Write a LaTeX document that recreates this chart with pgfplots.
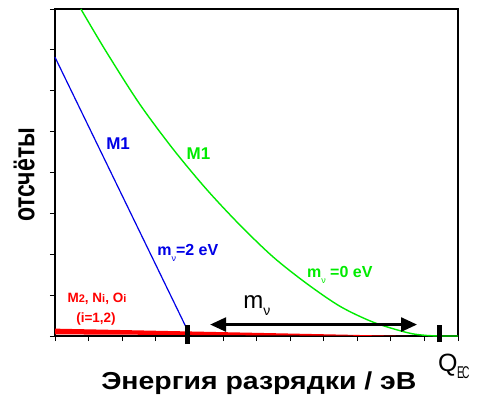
\documentclass[border=0pt]{standalone}
\usepackage{fontspec}
\setmainfont{Liberation Sans}
\newfontfamily\xlabfont[FakeStretch=1.16]{Liberation Sans}
\newfontfamily\ylabfont[FakeStretch=0.77]{Liberation Sans}
\newfontfamily\ecfont[FakeStretch=0.6]{Liberation Sans}
\usepackage{pgfplots}
\pgfplotsset{compat=1.18}
\usetikzlibrary{arrows.meta}
\definecolor{lime}{RGB}{0,235,0}
\definecolor{bl}{RGB}{0,0,230}
\begin{document}
\begin{tikzpicture}
\useasboundingbox (-55bp,-60bp) rectangle (422bp,336bp);
\begin{axis}[
  at={(0,0)}, anchor=south west,
  scale only axis, width=403bp, height=327bp,
  xmin=0, xmax=12, ymin=0, ymax=8,
  xtick={0,1,...,12}, ytick={0,1,...,8},
  xticklabels={}, yticklabels={},
  tick align=outside, xtick pos=bottom, ytick pos=left,
  major tick length=5bp,
  axis line style={line width=1.3bp, black},
  tick style={line width=0.8bp, black},
  clip=false,
]
% red band
\addplot[draw=none, fill=red] coordinates {(0,0.04)(0,0.18)(10.5,0)(10.5,0)} -- cycle;
% blue line m=2 eV
\addplot[bl, line width=1.2bp] coordinates {(0,6.82)(3.9,0.22)};
% green curve m=0
\addplot[lime, line width=1.4bp, smooth] coordinates {
(0.77,8.00)(1.5,6.99)(2.5,5.70)(3.5,4.59)(4.5,3.60)(5.5,2.72)(6.5,1.93)(7.5,1.28)(8.5,0.72)(9.5,0.33)(10.5,0.08)(11.0,0.018)(11.45,0)(12,0)};
% arrow
\addplot[black, line width=2.6bp, {Triangle[length=16bp,width=14bp]}-{Triangle[length=16bp,width=14bp]}] coordinates {(4.62,0.28)(10.78,0.28)};
% markers
\addplot[black, line width=5bp] coordinates {(3.94,-0.2)(3.94,0.27)};
\addplot[black, line width=5bp] coordinates {(11.46,-0.15)(11.46,0.28)};
% labels
\node[bl, font=\bfseries\fontsize{17bp}{17bp}\selectfont] at (axis cs:1.88,4.70) {M1};
\node[lime, font=\bfseries\fontsize{17bp}{17bp}\selectfont] at (axis cs:4.27,4.45) {M1};
\node[bl, anchor=base west, inner sep=0, font=\bfseries\fontsize{16bp}{16bp}\selectfont] at (axis cs:3.04,1.98) {m\raisebox{-6bp}{\fontsize{9bp}{9bp}\mdseries ν}=2 eV};
\node[lime, anchor=base west, inner sep=0, font=\bfseries\fontsize{16bp}{16bp}\selectfont] at (axis cs:7.50,1.44) {m\raisebox{-6bp}{\fontsize{9bp}{9bp}\mdseries ν} =0 eV};
\node[anchor=base west, inner sep=0, font=\fontsize{24bp}{24bp}\selectfont] at (axis cs:5.60,0.685) {m\raisebox{-7bp}{\fontsize{14bp}{14bp}\selectfont ν}};
\node[red, anchor=base, inner sep=0, font=\bfseries\fontsize{13.5bp}{14bp}\selectfont] at (axis cs:1.25,0.81) {M{\fontsize{11bp}{11bp}\selectfont 2}, N{\fontsize{11bp}{11bp}\selectfont i}, O{\fontsize{11bp}{11bp}\selectfont i}};
\node[red, anchor=base, inner sep=0, font=\bfseries\fontsize{13.5bp}{14bp}\selectfont] at (axis cs:1.22,0.32) {(i=1,2)};
\node[anchor=base west, inner sep=0, font=\fontsize{25bp}{25bp}\selectfont] at (axis cs:11.40,-0.86) {Q};
\node[anchor=base west, inner sep=0, font=\ecfont\fontsize{17bp}{17bp}\selectfont] at (axis cs:11.97,-1.05) {E\kern-2bp C};
\node[anchor=base, inner sep=0, font=\xlabfont\bfseries\fontsize{24.5bp}{25bp}\selectfont] at (axis cs:6.07,-1.30) {Энергия разрядки / эВ};
\node[rotate=90, inner sep=0, font=\ylabfont\bfseries\fontsize{30bp}{30bp}\selectfont] at (axis cs:-0.92,3.94) {отсчёты};
\end{axis}
\end{tikzpicture}
\end{document}
